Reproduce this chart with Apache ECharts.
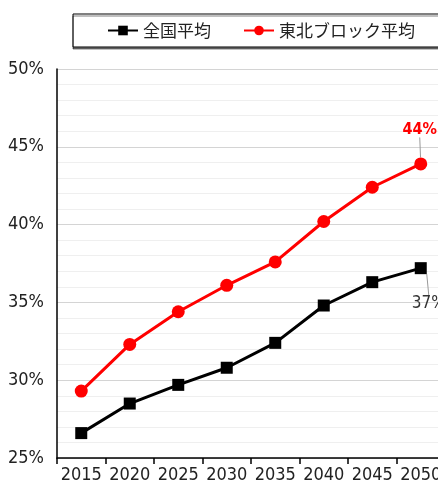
<!DOCTYPE html>
<html><head><meta charset="utf-8">
<script src="https://cdn.jsdelivr.net/npm/echarts@6/dist/echarts.min.js"></script>
<style>html,body{margin:0;padding:0;background:#fff}#c{width:438px;height:489px}</style>
</head><body><div id="c"></div>
<script>
const years = ['2015','2020','2025','2030','2035','2040','2045','2050'];
const national = [26.6, 28.5, 29.7, 30.8, 32.4, 34.8, 36.3, 37.2];
const tohoku = [29.3, 32.3, 34.4, 36.1, 37.6, 40.2, 42.4, 43.9];
const yTicks = [25, 30, 35, 40, 45, 50];

const numFont = '"DejaVu Sans Condensed", "Liberation Sans Narrow", sans-serif';
const jpFont = '"Noto Sans CJK JP", sans-serif';
const chart = echarts.init(document.getElementById('c'));
const last = years.length - 1;
chart.setOption({
  animation: false,
  legend: {
    orient: 'horizontal',
    left: 73, top: 14, width: 380,
    padding: [8, 40, 8, 34],
    borderColor: '#000', borderWidth: 1,
    shadowColor: 'rgba(0,0,0,0.5)', shadowOffsetY: 2, shadowBlur: 0,
    backgroundColor: '#fff',
    itemWidth: 30, itemHeight: 12, itemGap: 32,
    textStyle: {fontFamily: jpFont, fontSize: 17, color: '#222'},
    data: ['全国平均', '東北ブロック平均']
  },
  grid: {left: 57, width: 388, top: 69, bottom: 31, outerBoundsMode: 'none', containLabel: false},
  xAxis: {
    type: 'category', data: years, boundaryGap: true,
    axisLine: {lineStyle: {color: '#000', width: 1.5}},
    axisTick: {show: true, length: 6, lineStyle: {color: '#000', width: 1.5}},
    axisLabel: {interval: 0, fontFamily: numFont, fontSize: 18, color: '#222', margin: 8}
  },
  yAxis: {
    type: 'value', min: yTicks[0], max: yTicks[yTicks.length - 1], interval: 5,
    axisLine: {show: true, lineStyle: {color: '#000', width: 1.5}},
    axisTick: {show: false},
    axisLabel: {fontFamily: numFont, fontSize: 18, color: '#222', margin: 13, formatter: v => v + '%'},
    splitLine: {lineStyle: {color: '#d4d4d4', width: 1}},
    minorTick: {show: false, splitNumber: 5},
    minorSplitLine: {show: true, lineStyle: {color: '#efefef', width: 1}}
  },
  series: [
    {
      name: '全国平均', type: 'line', data: national.map((v, i) => ({
        value: v,
        label: i === last ? {show: true, position: 'bottom', formatter: p => Math.round(p.value) + '%',
          fontFamily: numFont, fontSize: 17, color: '#333'} : {show: false},
        labelLine: i === last ? {show: true, lineStyle: {color: '#999', width: 1}} : {show: false}
      })),
      symbol: 'rect', symbolSize: 12,
      itemStyle: {color: '#000'}, lineStyle: {color: '#000', width: 3},
      labelLayout: p => p.dataIndex === last ? {dx: 8, dy: 16} : {},
      z: 3
    },
    {
      name: '東北ブロック平均', type: 'line', data: tohoku.map((v, i) => ({
        value: v,
        label: i === last ? {show: true, position: 'top', formatter: p => Math.round(p.value) + '%',
          fontFamily: numFont, fontSize: 16, fontWeight: 'bold', color: '#ff0000'} : {show: false},
        labelLine: i === last ? {show: true, lineStyle: {color: '#999', width: 1}} : {show: false}
      })),
      symbol: 'circle', symbolSize: 13,
      itemStyle: {color: '#ff0000'}, lineStyle: {color: '#ff0000', width: 3},
      labelLayout: p => p.dataIndex === last ? {dx: -1, dy: -15} : {},
      z: 4
    }
  ]
});
</script></body></html>
